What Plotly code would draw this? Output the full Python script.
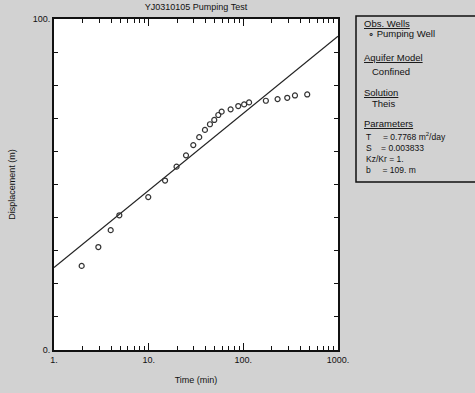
import plotly.graph_objects as go

# ---- data ----
time_min = [1.96, 2.94, 3.97, 4.9, 9.9, 14.9, 19.7, 24.8, 29.6, 34.2, 39.3, 44.4,
            49.3, 54.4, 59.0, 73.4, 88.4, 102, 115, 173, 230, 291, 351, 473]
displacement_m = [25.4, 31.1, 36.2, 40.7, 46.2, 51.2, 55.4, 58.8, 61.9, 64.3, 66.5, 68.2,
                  69.5, 71.0, 72.0, 72.7, 73.7, 74.2, 74.8, 75.3, 75.8, 76.2, 76.9, 77.2]
fit_time = [1, 1000]
fit_displacement = [24.9, 94.8]

x_major = [1, 10, 100, 1000]
x_major_text = ["1.", "10.", "100.", "1000."]
x_minor = [m * d for d in (1, 10, 100) for m in range(2, 10)]
y_major = [0, 100]
y_major_text = ["0.", "100."]
y_minor = list(range(10, 100, 10))

param_names = ["T", "S", "Kz/Kr", "b"]
param_values = ["0.7768 m<sup>2</sup>/day", "0.003833", "1.", "109. m"]

W, H = 475, 393
L, R, T, B = 54, 338, 19, 350
FONT = "Liberation Sans, Arial"
NB = "\u00a0"


def px(x):
    return (x - L) / (R - L)


def py(y):
    return (B - y) / (B - T)


fig = go.Figure()
fig.add_trace(go.Scatter(x=fit_time, y=fit_displacement, mode="lines",
                         line=dict(color="#222222", width=1.2), showlegend=False))
fig.add_trace(go.Scatter(x=time_min, y=displacement_m, mode="markers",
                         marker=dict(symbol="circle-open", size=5, color="#333333",
                                     line=dict(width=1.2)), showlegend=False))

axis_common = dict(showgrid=False, zeroline=False, showline=True, linecolor="#111111",
                   linewidth=2, mirror="ticks", ticks="inside", tickcolor="#111111",
                   automargin=False,
                   tickfont=dict(family=FONT, size=9, color="#111111"))

fig.update_xaxes(type="log", range=[0, 3], tickmode="array", tickvals=x_major,
                 ticktext=x_major_text, ticklen=7, tickwidth=1.2,
                 minor=dict(tickmode="array", tickvals=x_minor, ticks="inside",
                            ticklen=4, tickcolor="#111111", tickwidth=1),
                 title=dict(text="Time (min)", font=dict(family=FONT, size=9, color="#111111"),
                            standoff=13),
                 **axis_common)
fig.update_yaxes(range=[0, 100], tickmode="array", tickvals=y_major, ticktext=y_major_text,
                 ticklen=0,
                 minor=dict(tickmode="array", tickvals=y_minor, ticks="inside",
                            ticklen=4, tickcolor="#111111", tickwidth=1),
                 title=dict(text="Displacement (m)", font=dict(family=FONT, size=9, color="#111111"),
                            standoff=16),
                 **axis_common)

# legend box
fig.add_shape(type="rect", xref="paper", yref="paper", x0=px(356), x1=px(480),
              y0=py(182), y1=py(16), line=dict(color="#111111", width=1.5),
              fillcolor="rgba(0,0,0,0)")

legend_items = [
    ("<u>Obs. Wells</u>", 362, 24),
    ("∘ Pumping Well", 366, 34),
    ("<u>Aquifer Model</u>", 362, 57),
    ("Confined", 370, 71),
    ("<u>Solution</u>", 362, 92),
    ("Theis", 370, 103),
    ("<u>Parameters</u>", 362, 123),
]
for text, x, y in legend_items:
    fig.add_annotation(text=text, xref="paper", yref="paper", x=px(x), y=py(y),
                       xanchor="left", yanchor="middle", showarrow=False,
                       font=dict(family=FONT, size=9.5, color="#111111"))

pads = {"T": 5, "S": 4, "Kz/Kr": 1, "b": 5}
param_lines = [name + NB * pads[name] + "= " + val for name, val in zip(param_names, param_values)]
fig.add_annotation(text="<br>".join(param_lines), xref="paper", yref="paper",
                   x=px(365), y=py(130), xanchor="left", yanchor="top", align="left",
                   showarrow=False, borderpad=0,
                   font=dict(family=FONT, size=8.5, color="#111111"))

fig.update_layout(
    width=W, height=H,
    margin=dict(l=L, r=W - R, t=T, b=H - B, pad=0),
    paper_bgcolor="#d2d2d2", plot_bgcolor="#ffffff",
    title=dict(text="YJ0310105 Pumping Test", xref="container", x=196 / W, xanchor="center",
               y=1 - 7 / H, yanchor="middle", automargin=False,
               font=dict(family=FONT, size=9, color="#111111")),
    showlegend=False,
)

fig.write_html("out.html", config={"displayModeBar": False},
               post_script="document.body.style.margin='0';document.body.style.overflow='hidden';")
